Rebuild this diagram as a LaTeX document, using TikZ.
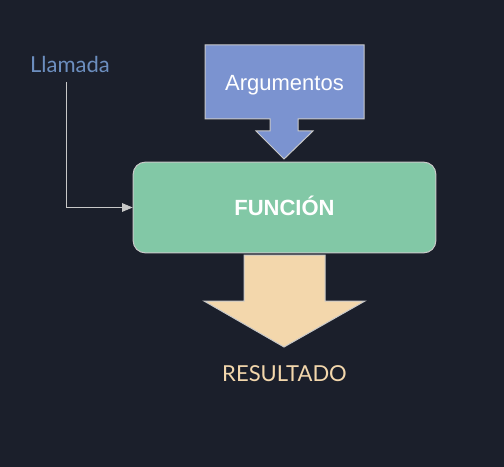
\documentclass[tikz,border=0pt]{standalone}
\usepackage{fontspec}
\setmainfont{Liberation Sans}
\newfontfamily\latofont{Lato}
\usetikzlibrary{arrows.meta}
\definecolor{bgdark}{HTML}{1B1F2B}
\definecolor{argblue}{HTML}{7B93D0}
\definecolor{fungreen}{HTML}{82C8A6}
\definecolor{respeach}{HTML}{F3D7AC}
\definecolor{callblue}{HTML}{6C8EBF}
\definecolor{edgegray}{HTML}{C8C8C8}
\tikzset{
  shapeline/.style = {draw = edgegray, line width = 0.75pt},
  captext/.style = {text height = 11.8pt, text depth = 0pt},
  funbox/.style = {shapeline, captext, fill = fungreen, rounded corners = 9pt,
    minimum width = 227pt, minimum height = 68pt, text = white,
    font = \fontsize{16.5}{18}\selectfont\bfseries},
  argtext/.style = {captext, text = white, font = \fontsize{16.5}{18}\selectfont},
  sidetext/.style = {font = \latofont\fontsize{16.5}{18}\selectfont},
  calllink/.style = {draw = edgegray, line width = 0.75pt,
    -{Triangle[length = 8pt, width = 6.5pt]}}
}

\begin{document}
\begin{tikzpicture}[x = 0.75pt, y = -0.75pt]
\fill[bgdark] (0,0) rectangle (504,467);
\path[use as bounding box] (0,0) rectangle (504,467);
% block arrow for the arguments
\draw[shapeline, fill = argblue] (205,45) -- (364,45) -- (364,119) -- (298,119)
  -- (298,131) -- (313,131) -- (284,159) -- (256,131) -- (270,131)
  -- (270,119) -- (205,119) -- cycle;
\node[argtext] (arg) at (284.5,82.5) {Argumentos};
\node[funbox] (fun) at (284.5,207.5) {FUNCIÓN};
% block arrow for the result
\draw[shapeline, fill = respeach] (244,255) -- (325,255) -- (325,301)
  -- (365,301) -- (284,347) -- (204,301) -- (244,301) -- cycle;
\node[sidetext, text = respeach] (res) at (284.5,373.5) {RESULTADO};
\node[sidetext, text = callblue] (call) at (70,64) {Llamada};
\coordinate (callfoot) at (66,82);
\draw[calllink] (callfoot) |- (fun.west);
\end{tikzpicture}
\end{document}
